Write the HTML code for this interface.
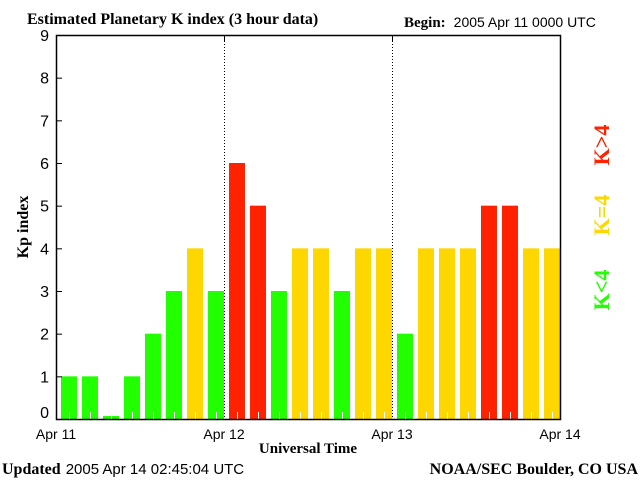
<!DOCTYPE html>
<html><head><meta charset="utf-8"><style>
body{margin:0;background:#fff;}
svg{display:block;}
.s{font-family:"Liberation Sans",sans-serif;}
.r{font-family:"Liberation Serif",serif;font-weight:bold;}
</style></head><body>
<svg id="c" width="640" height="480" xmlns="http://www.w3.org/2000/svg">
<rect width="640" height="480" fill="#fff"/>
<text class="r" x="27" y="24" font-size="16">Estimated Planetary K index (3 hour data)</text>
<text x="404" y="27" font-size="14"><tspan class="r" font-size="15">Begin:</tspan><tspan class="s" dx="8">2005 Apr 11 0000 UTC</tspan></text>
<text class="r" transform="translate(28,227) rotate(-90)" text-anchor="middle" font-size="16">Kp index</text>
<text class="r" x="308" y="453" text-anchor="middle" font-size="15">Universal Time</text>
<text x="2" y="474" font-size="15"><tspan class="r" font-size="16">Updated</tspan><tspan class="s" dx="5">2005 Apr 14 02:45:04 UTC</tspan></text>
<text class="r" x="638" y="474" text-anchor="end" font-size="16">NOAA/SEC Boulder, CO USA</text>
<text class="r" transform="translate(609,145) rotate(-90)" text-anchor="middle" font-size="22" fill="#ff2200">K&gt;4</text>
<text class="r" transform="translate(609,215) rotate(-90)" text-anchor="middle" font-size="22" fill="#ffd700">K=4</text>
<text class="r" transform="translate(609,290) rotate(-90)" text-anchor="middle" font-size="22" fill="#22ff00">K&lt;4</text>
<g id="bars"></g>
<g id="axes"></g>
</svg>
<script>
const kpValues=[1,1,0.07,1,2,3,4,3, 6,5,3,4,4,3,4,4, 2,4,4,4,5,5,4,4];
const yTicks=[0,1,2,3,4,5,6,7,8,9];
const dayLabels=["Apr 11","Apr 12","Apr 13","Apr 14"];
const NS="http://www.w3.org/2000/svg";
const L=56,R=560,T=35,B=419,yMax=9;
const slot=(R-L)/kpValues.length;
const y=v=>B-(v/yMax)*(B-T);
const x=i=>L+i*slot;
function mk(tag,attrs,parent){const e=document.createElementNS(NS,tag);for(const k in attrs)e.setAttribute(k,attrs[k]);parent.appendChild(e);return e;}
const bars=document.getElementById('bars'),axes=document.getElementById('axes');
kpValues.forEach((v,i)=>{
  const col=v>4?"#ff2200":(v===4?"#ffd700":"#22ff00");
  const r=mk('rect',{x:x(i)+5,y:y(v),width:16,height:B-y(v),fill:col},bars);
  
  
  const t=mk('line',{x1:x(i)+13.5,x2:x(i)+13.5,y1:B,y2:B-7,stroke:"#fff","stroke-width":1},bars);
  
  
});
[1,2].forEach(d=>{
  const ln=mk('line',{x1:x(d*8)+0.5,x2:x(d*8)+0.5,y1:T,y2:B,stroke:"#000","stroke-dasharray":"1,2"},axes);
  
  
  mk('line',{x1:x(d*8)+0.5,x2:x(d*8)+0.5,y1:T,y2:T+6,stroke:"#000"},axes);
});
const fr=mk('rect',{x:L+0.5,y:T+0.5,width:R-L,height:B-T,fill:"none",stroke:"#000","stroke-width":1.5},axes);


yTicks.forEach(v=>{
  mk('line',{x1:L,x2:L+6,y1:y(v)+0.5,y2:y(v)+0.5,stroke:"#000"},axes);
  const tx=mk('text',{x:L-7,y:(v===0?y(v)-1:y(v)+6),"text-anchor":"end","font-size":"16","class":"s"},axes);
  tx.textContent=v;
  
  
});
dayLabels.forEach((d,i)=>{
  const tx=mk('text',{x:x(i*8),y:439,"text-anchor":"middle","font-size":"14","class":"s"},axes);
  tx.textContent=d;
  
  
});
</script>
</body></html>
